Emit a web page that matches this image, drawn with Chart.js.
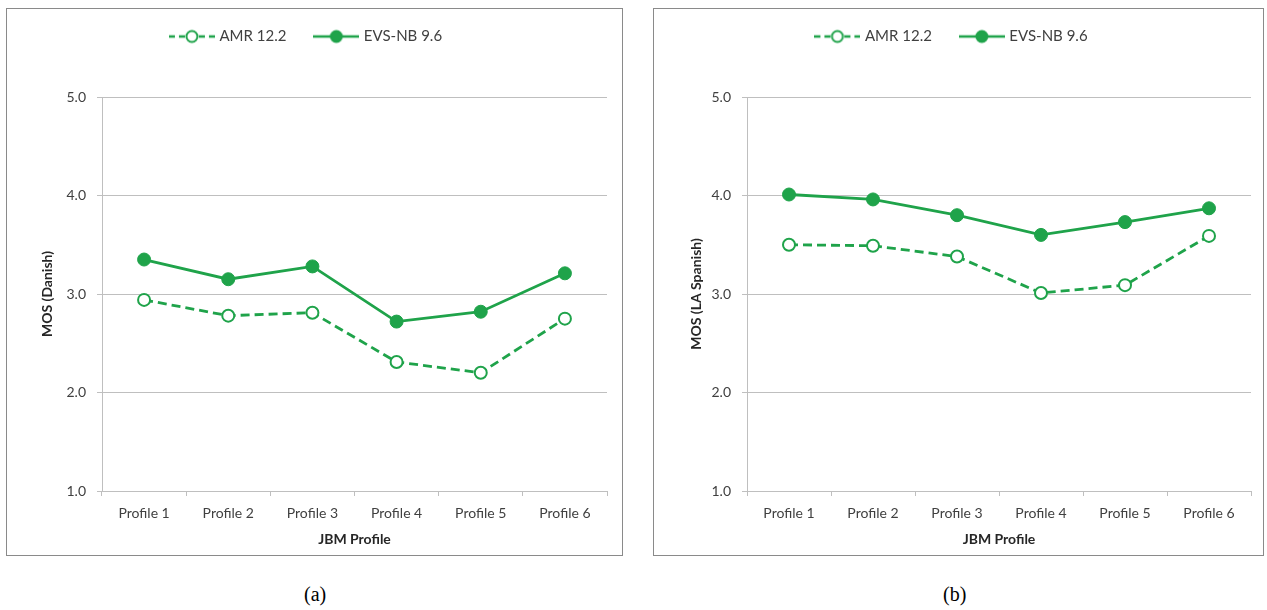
<!DOCTYPE html>
<html>
<head>
<meta charset="utf-8">
<script src="https://cdn.jsdelivr.net/npm/chart.js"></script>
<style>
  body { margin: 0; background: #fff; width: 1267px; height: 610px; position: relative; overflow: hidden; }
  .panel { position: absolute; top: 8px; height: 548px; border: 1px solid #8a8a8a; box-sizing: border-box; }
  .panel canvas { display: block; }
  .cap { position: absolute; top: 583px; font-family: "Liberation Serif", serif; font-size: 20px; color: #000; }
</style>
</head>
<body>
<div class="panel" style="left:6px;width:617px"><canvas id="chartA"></canvas></div>
<div class="panel" style="left:653px;width:611px"><canvas id="chartB"></canvas></div>
<div class="cap" style="left:304px">(a)</div>
<div class="cap" style="left:943px">(b)</div>
<script>
const categories = ['Profile 1', 'Profile 2', 'Profile 3', 'Profile 4', 'Profile 5', 'Profile 6'];
const amrDanish = [2.94, 2.78, 2.81, 2.31, 2.20, 2.75];
const evsDanish = [3.35, 3.15, 3.28, 2.72, 2.82, 3.21];
const amrSpanish = [3.50, 3.49, 3.38, 3.01, 3.09, 3.59];
const evsSpanish = [4.01, 3.96, 3.80, 3.60, 3.73, 3.87];
const seriesNames = ['AMR 12.2', 'EVS-NB 9.6'];

const green = '#1fa34a';
const font = 'Lato, "Open Sans", sans-serif';

// little line+marker picture for the legend
function legendIcon(dashed, filled) {
  const c = document.createElement('canvas');
  c.width = 46; c.height = 16;
  const g = c.getContext('2d');
  g.strokeStyle = green; g.lineWidth = 2.5;
  if (dashed) g.setLineDash([6, 4]);
  g.beginPath(); g.moveTo(0, 8); g.lineTo(46, 8); g.stroke();
  g.setLineDash([]);
  g.beginPath(); g.arc(23, 8, 5.5, 0, Math.PI * 2);
  g.fillStyle = filled ? green : '#fff';
  g.fill(); g.lineWidth = 2; g.stroke();
  return c;
}

// legend box taller than its content so the plot starts lower
const legendHeight = {
  id: 'legendHeight',
  beforeInit(chart) {
    const fit = chart.legend.fit;
    chart.legend.fit = function () {
      fit.call(this);
      this.height = 98;
    };
  }
};

function makeChart(id, yTitle, amr, evs, w, yWidth, rightPad, titlePad) {
  const el = document.getElementById(id);
  el.width = w; el.height = 546;
  new Chart(el, {
    type: 'line',
    data: {
      labels: categories,
      datasets: [
        { label: seriesNames[0], data: amr, borderColor: green, backgroundColor: '#fff',
          borderWidth: 2.8, borderDash: [9, 5], pointRadius: 6, pointBorderWidth: 2,
          pointBackgroundColor: '#fff', pointBorderColor: green, tension: 0 },
        { label: seriesNames[1], data: evs, borderColor: green, backgroundColor: green,
          borderWidth: 2.8, pointRadius: 6.5, pointBorderWidth: 1,
          pointBackgroundColor: green, pointBorderColor: green, tension: 0 }
      ]
    },
    options: {
      responsive: false,
      animation: false,
      layout: { padding: { top: -10, right: rightPad, left: 0, bottom: 0 } },
      plugins: {
        tooltip: { enabled: false },
        legend: {
          position: 'top',
          labels: {
            usePointStyle: true,
            pointStyleWidth: 40,
            color: '#404040',
            font: { family: font, size: 15 },
            padding: 30,
            generateLabels: chart => chart.data.datasets.map((d, i) => ({
              text: d.label, datasetIndex: i, fontColor: '#404040',
              pointStyle: legendIcon(i === 0, i === 1), hidden: false, lineWidth: 0
            }))
          }
        }
      },
      scales: {
        x: {
          offset: true,
          grid: { offset: true, drawOnChartArea: false, drawTicks: true, tickLength: 5, color: '#bfbfbf' },
          border: { color: '#bfbfbf' },
          ticks: { color: '#404040', font: { family: font, size: 14 }, padding: 9 },
          title: { display: true, text: 'JBM Profile', color: '#262626',
                   font: { family: font, size: 14, weight: 'bold' }, padding: { top: 0, bottom: 7 } },
          afterFit: s => { s.height = 64; }
        },
        y: {
          min: 1, max: 5,
          grid: { color: '#bfbfbf', tickLength: 5 },
          border: { color: '#bfbfbf' },
          ticks: { stepSize: 1, color: '#404040', font: { family: font, size: 14 }, padding: 11,
                   callback: v => v.toFixed(1) },
          title: { display: true, text: yTitle, color: '#262626',
                   font: { family: font, size: 14, weight: 'bold' }, padding: { top: titlePad, bottom: 0 } },
          afterFit: s => { s.width = yWidth; }
        }
      }
    },
    plugins: [legendHeight]
  });
}

makeChart('chartA', 'MOS (Danish)', amrDanish, evsDanish, 615, 95, 15, 32);
makeChart('chartB', 'MOS (LA Spanish)', amrSpanish, evsSpanish, 609, 93, 12, 34);
</script>
</body>
</html>
